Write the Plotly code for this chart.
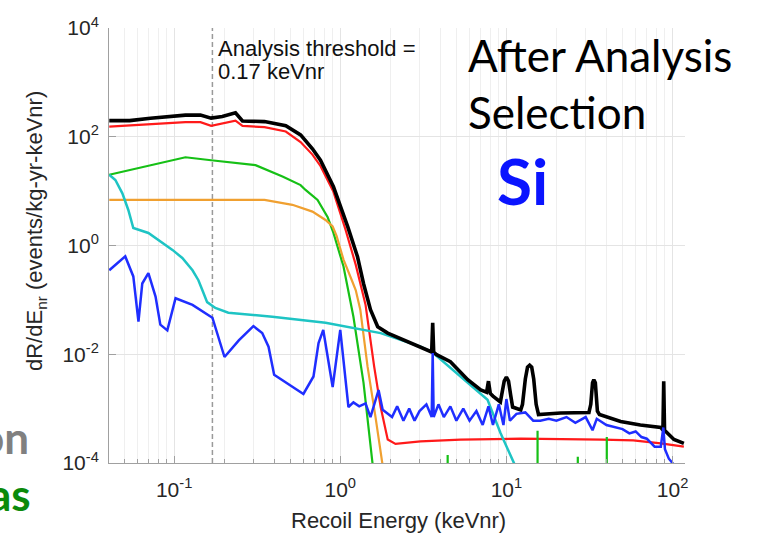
import plotly.graph_objects as go

# ---------------- data ----------------
THRESHOLD = 0.17  # keVnr
Y_MIN, Y_MAX = 1e-4, 1e4

X_TICKS = [0.1, 1, 10, 100]
X_TICKTEXT = ["10<sup>-1</sup>", "10<sup>0</sup>", "10<sup>1</sup>", "10<sup>2</sup>"]
Y_TICKS = [1e-4, 1e-2, 1, 1e2, 1e4]
Y_TICKTEXT = ["10<sup>-4</sup>", "10<sup>-2</sup>", "10<sup>0</sup>", "10<sup>2</sup>", "10<sup>4</sup>"]

BLACK_E = [0.0407, 0.054, 0.072, 0.117, 0.144, 0.167, 0.195, 0.234, 0.258, 0.35, 0.47, 0.577,
           0.68, 0.76, 0.91, 1.11, 1.27, 1.38, 1.52, 1.68, 1.93, 3.04, 3.4, 3.55, 3.6, 3.65,
           3.8, 4.6, 5.85, 7.0, 7.6, 7.8, 8.0, 8.3, 9.2, 9.4, 9.7, 10.0, 10.3, 10.6, 10.9,
           12.2, 12.5, 13.0, 13.4, 13.8, 14.2, 14.6, 15.1, 15.6, 21.2, 31.4, 32.2, 33.0, 33.6,
           34.3, 35.3, 36.3, 48.7, 64, 85, 87.5, 88.5, 89.5, 92, 102, 117]
BLACK_V = [198, 198, 219, 250, 250, 220, 235, 275, 195, 190, 160, 108,
           60, 37, 12, 2.2, 0.62, 0.20, 0.066, 0.032, 0.0245, 0.0138, 0.012, 0.011, 0.038,
           0.011, 0.0098, 0.0073, 0.0034, 0.0022, 0.0020, 0.0032, 0.0019, 0.0017, 0.00133,
           0.0018, 0.0032, 0.0038, 0.0032, 0.0018, 0.00107, 0.00095, 0.0012, 0.0035, 0.0058,
           0.0063, 0.0058, 0.0035, 0.0012, 0.00078, 0.00083, 0.00085, 0.0012, 0.003, 0.0034,
           0.003, 0.0009, 0.00078, 0.00058, 0.0005, 0.00045, 0.0004, 0.0032, 0.0004, 0.00037,
           0.00027, 0.00023]

RED_E = [0.0407, 0.072, 0.117, 0.144, 0.167, 0.234, 0.258, 0.35, 0.47, 0.577, 0.68, 0.76,
         0.91, 1.076, 1.24, 1.42, 1.6, 1.75, 1.93, 2.15, 3.04, 5.3, 12.2, 37.8, 58, 85, 117]
RED_V = [153, 172, 186, 186, 159, 198, 158, 150, 125, 80, 47, 29,
         9.7, 1.95, 0.44, 0.081, 0.0059, 0.00107, 0.00027, 0.000224, 0.00025, 0.00027,
         0.00028, 0.00027, 0.00026, 0.00023, 0.0002]

GREEN_E = [0.0407, 0.117, 0.167, 0.309, 0.449, 0.577, 0.618, 0.73, 0.84, 0.91, 1.046, 1.2,
           1.38, 1.56, 1.7, 4.43, 4.43, 4.43, 15.4, 15.4, 15.4, 26.9, 26.9, 26.9,
           40.2, 40.2, 40.2, 117]
GREEN_V = [20, 42, 37, 30, 18.6, 12.9, 10.5, 6.9, 3.3, 1.7, 0.41, 0.049,
           0.003, 0.000115, 1e-5, 1e-5, 1.4e-4, 1e-5, 1e-5, 3.9e-4, 1e-5, 1e-5, 1.3e-4, 1e-5,
           1e-5, 3.0e-4, 1e-5, 1e-5]

ORANGE_E = [0.0407, 0.35, 0.515, 0.68, 0.815, 0.90, 0.95, 1.046, 1.18, 1.24, 1.32, 1.46,
            1.63, 1.82, 2.0]
ORANGE_V = [6.9, 6.9, 5.6, 4.2, 2.95, 2.24, 1.5, 0.55, 0.22, 0.15, 0.066, 0.0059,
            0.0007, 8.5e-5, 1e-5]

CYAN_E = [0.0407, 0.0443, 0.0488, 0.053, 0.0568, 0.070, 0.0977, 0.112, 0.129, 0.14, 0.148,
          0.158, 0.177, 0.212, 0.39, 0.815, 1.75, 2.31, 3.04, 3.6, 5.85, 7.7, 9.2, 11.1, 12.0]
CYAN_V = [20, 16, 9.1, 4.5, 2.1, 1.7, 0.83, 0.59, 0.35, 0.23, 0.15,
          0.091, 0.071, 0.058, 0.049, 0.038, 0.0245, 0.0186, 0.0138, 0.0107, 0.003, 0.00145,
          0.00036, 1e-4, 3e-5]

BLUE_E = [0.0407, 0.0508, 0.0568, 0.061, 0.0643, 0.070, 0.0773, 0.0826, 0.091, 0.102, 0.129,
          0.170, 0.201, 0.245, 0.30, 0.339, 0.37, 0.40, 0.60, 0.69, 0.74, 0.79, 0.90, 1.0,
          1.12, 1.2, 1.3, 1.42, 1.52, 1.7, 1.8, 2.05, 2.2, 2.4, 2.6, 2.8, 3.0, 3.3, 3.55, 3.6,
          3.65, 3.9, 4.2, 4.6, 5.0, 5.5, 6.0, 6.6, 7.2, 7.8, 8.3, 9.0, 9.6, 10.0, 10.5, 11.5,
          13, 14.5, 16, 18, 20, 23, 26, 30, 33, 35, 40, 45, 50, 55, 60, 65, 70, 78, 85, 88,
          90, 95, 100, 103]
BLUE_V = [0.35, 0.63, 0.27, 0.040, 0.2, 0.31, 0.115, 0.035, 0.0275, 0.107, 0.081,
          0.047, 0.0089, 0.018, 0.033, 0.0245, 0.0138, 0.0042, 0.00186, 0.0039, 0.016, 0.028,
          0.0025, 0.028, 0.00107, 0.0013, 0.0011, 0.00125, 0.0007, 0.0022, 0.00095, 0.0007,
          0.0011, 0.0006, 0.001, 0.0006, 0.0009, 0.0012, 0.0007, 0.0105, 0.0007, 0.0012,
          0.0007, 0.0011, 0.0006, 0.001, 0.0006, 0.0009, 0.0005, 0.0011, 0.0005, 0.0012,
          0.0005, 0.0015, 0.0006, 0.0008, 0.00085, 0.0006, 0.0006, 0.00065, 0.0006, 0.0007,
          0.00055, 0.0007, 0.0004, 0.00065, 0.0005, 0.00045, 0.00042, 0.00035, 0.00038,
          0.0003, 0.00028, 0.0002, 0.0002, 0.00045, 0.00018, 0.00012, 0.0001, 5e-5]

SERIES = [
    (RED_E, RED_V, "#ff1a1a", 2.2),
    (GREEN_E, GREEN_V, "#16c016", 2.2),
    (ORANGE_E, ORANGE_V, "#f0a030", 2.2),
    (CYAN_E, CYAN_V, "#1ec4c4", 2.5),
    (BLACK_E, BLACK_V, "#000000", 3.6),
    (BLUE_E, BLUE_V, "#1f2eff", 2.5),
]

# ---------------- figure ----------------
fig = go.Figure()

# threshold line
fig.add_trace(go.Scatter(x=[THRESHOLD, THRESHOLD], y=[Y_MIN, Y_MAX], mode="lines",
                         line=dict(color="#9a9a9a", width=1.5, dash="5px,3px"),
                         hoverinfo="skip", showlegend=False))

for e, v, c, w in SERIES:
    fig.add_trace(go.Scatter(x=e, y=v, mode="lines", line=dict(color=c, width=w),
                             showlegend=False))

HELV = "Liberation Sans, Arial, Helvetica, sans-serif"
TICK_FONT = dict(family=HELV, size=21, color="#262626")
TITLE_FONT = dict(family=HELV, size=22, color="#262626")
W, H = 761, 537
L, R, T, B = 109, 76, 28, 74
PW, PH = W - L - R, H - T - B


def px(xp):
    return (xp - L) / PW


def py(yp):
    return (H - B - yp) / PH


fig.update_layout(
    width=W, height=H, autosize=False,
    margin=dict(l=L, r=R, t=T, b=B, pad=0),
    paper_bgcolor="white", plot_bgcolor="white",
    showlegend=False,
    xaxis=dict(
        type="log", range=[-1.392, 2.075],
        tickmode="array", tickvals=X_TICKS, ticktext=X_TICKTEXT,
        ticks="inside", ticklen=7, tickwidth=1, tickcolor="#a0a0a0",
        showline=True, linecolor="#a0a0a0", linewidth=1, mirror=False,
        showgrid=True, gridcolor="#e4e4e4", gridwidth=1, zeroline=False,
        tickfont=TICK_FONT, ticklabelstandoff=8,
        minor=dict(ticks="inside", ticklen=4, tickcolor="#a0a0a0", dtick="D1",
                   showgrid=True, gridcolor="#efefef", gridwidth=1),
    ),
    yaxis=dict(
        type="log", range=[-4, 4],
        tickmode="array", tickvals=Y_TICKS, ticktext=Y_TICKTEXT,
        ticks="inside", ticklen=7, tickwidth=1, tickcolor="#a0a0a0",
        showline=True, linecolor="#a0a0a0", linewidth=1, mirror=False,
        showgrid=True, gridcolor="#e4e4e4", gridwidth=1, zeroline=False,
        tickfont=TICK_FONT, ticklabelstandoff=5,
    ),
)

ann = []
ann.append(dict(text="Analysis threshold =", xref="paper", yref="paper",
                x=px(216), y=py(48), xanchor="left", yanchor="middle", align="left",
                showarrow=False, font=dict(family=HELV, size=22, color="#111111")))
ann.append(dict(text="0.17 keVnr", xref="paper", yref="paper",
                x=px(216), y=py(71), xanchor="left", yanchor="middle", align="left",
                showarrow=False, font=dict(family=HELV, size=22, color="#111111")))
ann.append(dict(text="After Analysis<br>Selection", xref="paper", yref="paper",
                x=px(466), y=py(27), xanchor="left", yanchor="top", align="left",
                showarrow=False, font=dict(family="Lato, sans-serif", size=44, color="#000000")))
ann.append(dict(text="<b>Si</b>", xref="paper", yref="paper",
                x=px(495), y=py(140), xanchor="left", yanchor="top",
                showarrow=False, font=dict(family="Lato, sans-serif", size=64, color="#0a14ff")))
ann.append(dict(text="dR/dE<sub>nr</sub> (events/kg-yr-keVnr)", xref="paper", yref="paper",
                x=px(36), y=py(231), xanchor="center", yanchor="middle", textangle=-90,
                showarrow=False, font=TITLE_FONT))
ann.append(dict(text="Recoil Energy (keVnr)", xref="paper", yref="paper",
                x=px(398), y=py(520), xanchor="center", yanchor="middle",
                showarrow=False, font=TITLE_FONT))
# fragments of slide text at the left edge (cut off in the reference too)
ann.append(dict(text="<b>on</b>", xref="paper", yref="paper",
                x=px(31), y=py(437), xanchor="right", yanchor="middle",
                showarrow=False, font=dict(family="Lato, sans-serif", size=44, color="#808080")))
ann.append(dict(text="<b>as</b>", xref="paper", yref="paper",
                x=px(33), y=py(494), xanchor="right", yanchor="middle",
                showarrow=False, font=dict(family="Lato, sans-serif", size=44, color="#0b8a0b")))
fig.update_layout(annotations=ann)

fig.write_html("out.html")
